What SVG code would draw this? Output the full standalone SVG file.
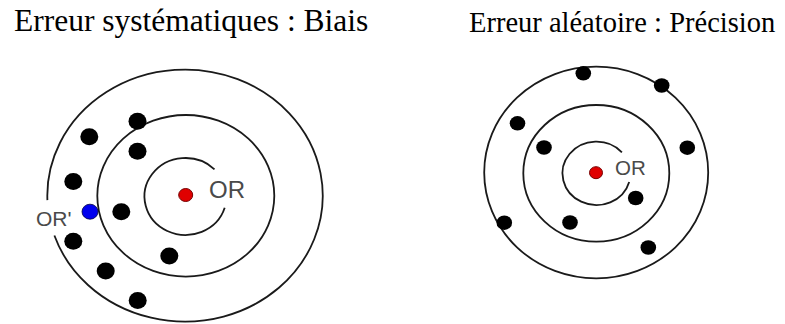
<svg xmlns="http://www.w3.org/2000/svg" width="785" height="324" viewBox="0 0 785 324">
<style>
.title{font-family:"Liberation Serif","Times New Roman",serif;fill:#000}
.ring{fill:none;stroke:#1a1a1a;stroke-width:1.8}
.lbl{font-family:"Liberation Sans",Arial,sans-serif;fill:#4a4a4a}
.dot{fill:#000}
.red{fill:#e00000;stroke:#700;stroke-width:1}
.blue{fill:#0000ee;stroke:#004;stroke-width:0.8}
</style>
<rect width="785" height="324" fill="#fff"/>
<g id="title-biais"><text class="title" x="14" y="31" font-size="31.5">Erreur systématiques : Biais</text></g>
<g id="title-precision"><text class="title" x="469" y="32" font-size="28.5">Erreur aléatoire : Précision</text></g>

<g id="target-biais">
<path class="ring" d="M47.4,200.1 A137.7,126 0 1 1 54.4,235.5"/>
<ellipse class="ring" cx="185.8" cy="195.8" rx="88.5" ry="80.8"/>
<path class="ring" d="M224.7,207.8 A41,38.5 0 1 1 214.5,169.3"/>
<ellipse class="red" cx="185.7" cy="195" rx="7" ry="6.5"/>
<text class="lbl" x="209" y="197.5" font-size="24">OR</text>
<text class="lbl" x="36" y="226" font-size="21">OR'</text>
<ellipse class="blue" cx="90" cy="211.7" rx="8" ry="7.5"/>
<g class="dot">
<ellipse cx="137.5" cy="121.2" rx="9" ry="8.5"/>
<ellipse cx="89.3" cy="136.7" rx="9" ry="8.5"/>
<ellipse cx="137.5" cy="151.2" rx="9" ry="8.5"/>
<ellipse cx="73.3" cy="181.5" rx="9" ry="8.5"/>
<ellipse cx="121.3" cy="211.7" rx="9" ry="8.5"/>
<ellipse cx="73.3" cy="241.3" rx="9" ry="8.5"/>
<ellipse cx="169.3" cy="256" rx="9" ry="8.5"/>
<ellipse cx="105.7" cy="271" rx="9" ry="8.5"/>
<ellipse cx="137.7" cy="300.5" rx="9" ry="8.5"/>
</g>
</g>

<g id="target-precision">
<ellipse class="ring" cx="596.2" cy="172.5" rx="112" ry="105.8"/>
<ellipse class="ring" cx="596.3" cy="173.3" rx="73" ry="68.3"/>
<path class="ring" d="M629.2,181.9 A34,31.7 0 1 1 621.9,152.3"/>
<ellipse class="red" cx="596" cy="172.7" rx="6.5" ry="6"/>
<text class="lbl" x="615" y="174.5" font-size="20.5">OR</text>
<g class="dot">
<ellipse cx="583.3" cy="73.3" rx="7.8" ry="7.3"/>
<ellipse cx="661.7" cy="85.5" rx="7.8" ry="7.3"/>
<ellipse cx="517.5" cy="123.3" rx="7.8" ry="7.3"/>
<ellipse cx="544" cy="147.5" rx="7.8" ry="7.3"/>
<ellipse cx="687.3" cy="147.7" rx="7.8" ry="7.3"/>
<ellipse cx="635.7" cy="198" rx="7.8" ry="7.3"/>
<ellipse cx="504.3" cy="222.7" rx="7.8" ry="7.3"/>
<ellipse cx="570" cy="222.5" rx="7.8" ry="7.3"/>
<ellipse cx="648.3" cy="247.5" rx="7.8" ry="7.3"/>
</g>
</g>
</svg>
